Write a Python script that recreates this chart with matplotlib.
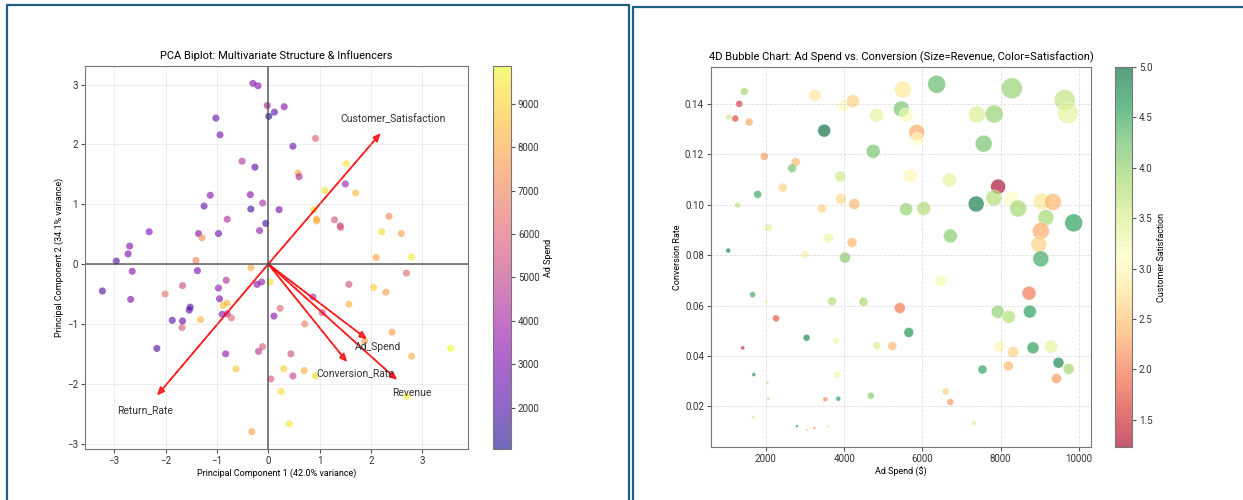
import matplotlib.pyplot as plt
from matplotlib.patches import Rectangle

plt.rcParams['font.family'] = ['Roboto', 'DejaVu Sans']
plt.rcParams['axes.edgecolor'] = '#777777'
plt.rcParams['xtick.color'] = '#555555'
plt.rcParams['ytick.color'] = '#555555'
plt.rcParams['xtick.labelcolor'] = '#333333'
plt.rcParams['ytick.labelcolor'] = '#333333'

# --- PCA scores (left) ---
pc1 = [-0.30, -0.20, -0.02, 0.01, 0.12, 0.31, -1.02, -0.94, 0.48, 0.92,
       -0.51, -0.26, 0.58, 0.60, 1.52, 1.50, 1.10, 1.70, -1.13, -0.35,
       -0.11, -1.25, -0.34, 0.21, 0.89, 0.94, 0.94, -0.80, -0.05, 1.29,
       1.40, 1.41, 2.35, 2.21, 2.59, -2.32, -1.36, -1.29, -0.97, -0.17,
       -2.70, -2.73, -2.96, -2.65, -1.41, -1.38, -0.34, 2.10, 2.79, 2.69,
       -3.23, -2.68, -2.01, -1.67, -0.82, -0.97, -0.13, -0.22, 0.03, -0.95,
       -1.52, -1.54, -0.88, -0.80, -0.90, -0.80, -0.72, -1.87, -1.67, -1.32,
       -1.68, 0.11, 0.23, 0.87, 1.05, 1.57, 2.05, 2.29, 1.57, 0.71,
       2.41, 1.88, -2.17, -0.83, -0.11, -0.19, 0.44, -0.63, 0.30, 0.70,
       0.92, 0.05, 0.48, 0.25, 2.79, 3.55, 2.70, 0.41, -0.32]
pc2 = [3.02, 2.98, 2.65, 2.47, 2.54, 2.63, 2.44, 2.16, 1.97, 2.10,
       1.72, 1.62, 1.52, 1.46, 1.68, 1.34, 1.23, 1.19, 1.15, 1.16,
       1.02, 0.97, 0.92, 0.91, 0.91, 0.75, 0.72, 0.75, 0.68, 0.74,
       0.64, 0.61, 0.80, 0.54, 0.51, 0.54, 0.51, 0.44, 0.51, 0.56,
       0.30, 0.17, 0.05, -0.12, 0.06, -0.11, -0.06, 0.11, 0.12, -0.15,
       -0.45, -0.59, -0.50, -0.36, -0.27, -0.40, -0.30, -0.34, -0.30, -0.58,
       -0.72, -0.77, -0.69, -0.65, -0.84, -0.83, -0.90, -0.94, -0.95, -0.93,
       -1.06, -0.87, -0.74, -0.55, -0.81, -0.34, -0.39, -0.47, -0.67, -1.00,
       -1.14, -1.29, -1.41, -1.50, -1.38, -1.46, -1.50, -1.75, -1.75, -1.78,
       -1.87, -1.92, -1.87, -2.13, -1.54, -1.41, -2.21, -2.67, -2.80]
pc_ad_spend = [3200, 3200, 4000, 1050, 2200, 3200, 2400, 3000, 2400, 6000,
               4500, 2200, 7800, 4200, 9300, 3800, 9300, 8500, 3300, 3300,
               4300, 2300, 1800, 2900, 8800, 8000, 8200, 4300, 1900, 5600,
               4800, 6000, 7200, 9200, 7800, 3300, 3500, 7300, 2600, 3700,
               3200, 3000, 2100, 3400, 7000, 3000, 8000, 7900, 9500, 6300,
               1900, 3200, 6500, 5300, 4300, 3300, 3700, 3500, 9300, 3100,
               1900, 2300, 8600, 8300, 3500, 4000, 6300, 2200, 2600, 8300,
               5800, 3200, 6200, 4200, 5200, 5500, 9000, 7800, 8200, 6800,
               7700, 7700, 1900, 3500, 5800, 4700, 5500, 8700, 9000, 8000,
               9100, 5800, 5000, 9300, 8300, 9870, 9700, 9400, 7900]

loading_names = ['Ad_Spend', 'Conversion_Rate', 'Revenue', 'Customer_Satisfaction', 'Return_Rate']
loading_x = [1.90, 1.52, 2.49, 2.17, -2.15]
loading_y = [-1.24, -1.62, -1.92, 2.17, -2.18]

# --- Bubble chart data (right) ---
ad_spend = [1449, 1319, 1049, 1219, 1570, 3251, 3972, 4222, 3491, 1960,
            2761, 2671, 2430, 1790, 1279, 3902, 3922, 4262, 3431, 2060,
            3602, 4202, 3001, 4022, 1039, 1660, 1990, 2260, 3692, 4493,
            3041, 1409, 3792, 4833, 1690, 2040, 2060, 1670, 2791, 3051,
            3241, 3572, 3522, 3852, 3822, 4683, 5233, 5423, 5653, 5503,
            5463, 5583, 4833, 5854, 5874, 4743, 5694, 5584, 6034, 6364,
            6695, 6715, 6474, 6594, 6715, 7315, 7395, 7836, 7566, 8286,
            9638, 9718, 7936, 7826, 8277, 7375, 8447, 9057, 9337, 9157,
            9868, 9027, 8977, 9027, 8727, 7926, 8207, 8747, 7966, 8317,
            8827, 9287, 7536, 8197, 9478, 9738, 9428]
conversion = [0.1449, 0.1400, 0.1348, 0.1342, 0.1328, 0.1434, 0.1393, 0.1411, 0.1294, 0.1192,
              0.1169, 0.1145, 0.1068, 0.1041, 0.0999, 0.1112, 0.1023, 0.1003, 0.0985, 0.0909,
              0.0868, 0.0850, 0.0802, 0.0790, 0.0818, 0.0643, 0.0615, 0.0549, 0.0617, 0.0615,
              0.0472, 0.0432, 0.0460, 0.0441, 0.0326, 0.0293, 0.0230, 0.0157, 0.0121, 0.0107,
              0.0114, 0.0120, 0.0228, 0.0230, 0.0326, 0.0242, 0.0439, 0.0590, 0.0493, 0.1457,
              0.1380, 0.1356, 0.1355, 0.1287, 0.1261, 0.1212, 0.1115, 0.0982, 0.0985, 0.1478,
              0.1098, 0.0876, 0.0697, 0.0258, 0.0217, 0.0133, 0.1358, 0.1360, 0.1242, 0.1462,
              0.1415, 0.1364, 0.1072, 0.1027, 0.1023, 0.1003, 0.0985, 0.1013, 0.1011, 0.0949,
              0.0928, 0.0896, 0.0842, 0.0785, 0.0649, 0.0575, 0.0555, 0.0576, 0.0436, 0.0416,
              0.0432, 0.0437, 0.0346, 0.0360, 0.0373, 0.0348, 0.0310]
revenue = [332, 254, 187, 254, 332, 746, 746, 876, 876, 332,
           420, 420, 420, 332, 187, 627, 627, 627, 420, 332,
           518, 518, 332, 627, 130, 187, 130, 254, 420, 420,
           254, 83, 254, 332, 83, 47, 47, 47, 47, 47,
           47, 47, 130, 130, 254, 254, 420, 627, 518, 1498,
           1327, 1016, 1016, 1327, 876, 1016, 1016, 876, 1016, 1680,
           1016, 1016, 746, 254, 254, 130, 1498, 1680, 1498, 2286,
           2286, 2286, 1166, 1327, 1327, 1327, 1498, 1498, 1498, 1327,
           1680, 1498, 1327, 1327, 1016, 876, 876, 876, 627, 627,
           746, 876, 420, 518, 627, 627, 518]
satisfaction = [3.9, 1.6, 3.6, 1.7, 2.3, 2.8, 3.1, 2.6, 5.0, 2.2,
                2.4, 4.2, 2.6, 4.5, 3.7, 3.6, 2.7, 2.4, 2.6, 3.4,
                3.3, 2.4, 2.9, 4.1, 4.8, 4.5, 3.2, 1.8, 3.8, 3.9,
                4.8, 1.4, 3.3, 3.5, 4.7, 3.8, 2.5, 3.7, 4.6, 2.6,
                2.2, 2.7, 2.1, 4.6, 3.3, 4.1, 2.4, 2.0, 4.7, 2.8,
                4.2, 3.2, 3.4, 2.3, 3.1, 4.2, 3.0, 4.0, 3.8, 4.3,
                3.4, 4.1, 3.2, 2.6, 2.2, 3.4, 3.5, 4.0, 4.2, 4.0,
                3.7, 3.4, 1.23, 3.8, 3.1, 4.9, 3.9, 2.8, 2.4, 3.9,
                4.6, 2.3, 2.6, 4.5, 2.0, 4.0, 3.8, 4.6, 3.0, 2.6,
                4.6, 3.4, 4.6, 2.4, 4.8, 3.9, 2.2]

fig = plt.figure(figsize=(12.43, 5), dpi=100)

# panel frames
for x0, y_top, w in [(7, 5, 622), (633, 7, 640)]:
    fig.patches.append(Rectangle((x0 / 1243, -0.02), w / 1243, (500 - y_top) / 500 + 0.02,
                                 transform=fig.transFigure, fill=False,
                                 edgecolor='#1f5f7f', linewidth=1.6))

# --- Left: PCA biplot ---
ax1 = fig.add_axes([0.0684, 0.102, 0.3081, 0.766])
cax1 = fig.add_axes([0.3966, 0.102, 0.0145, 0.766])
sc1 = ax1.scatter(pc1, pc2, c=pc_ad_spend, cmap='plasma', s=26, alpha=0.6, linewidths=0)
ax1.axhline(0, color='#444444', linewidth=1.2, alpha=0.8)
ax1.axvline(0, color='#444444', linewidth=1.2, alpha=0.8)
for name, lx, ly in zip(loading_names, loading_x, loading_y):
    ax1.arrow(0, 0, lx, ly, color='r', alpha=0.8, width=0.008, head_width=0.11,
              head_length=0.13, length_includes_head=True)
    ax1.text(lx * 1.12, ly * 1.12, name, color='#333333', ha='center', va='center', fontsize=7.5)
ax1.set_title('PCA Biplot: Multivariate Structure & Influencers', fontsize=8, pad=5)
ax1.set_xlabel('Principal Component 1 (42.0% variance)', fontsize=6.5, labelpad=2)
ax1.set_ylabel('Principal Component 2 (34.1% variance)', fontsize=6.5, labelpad=2)
ax1.tick_params(labelsize=7, length=3, pad=2)
ax1.grid(True, alpha=0.25, linewidth=0.6)
cb1 = fig.colorbar(sc1, cax=cax1)
cb1.set_label('Ad Spend', fontsize=6.5, labelpad=3)
cb1.ax.tick_params(labelsize=7, length=3, pad=2)
cb1.outline.set_edgecolor('#777777')

# --- Right: bubble chart ---
ax2 = fig.add_axes([0.572, 0.106, 0.3057, 0.76])
cax2 = fig.add_axes([0.897, 0.106, 0.0137, 0.76])
sizes = [r / 10 for r in revenue]
sc2 = ax2.scatter(ad_spend, conversion, s=sizes, c=satisfaction, cmap='RdYlGn',
                  alpha=0.65, edgecolors='w', linewidth=0.5)
ax2.set_title('4D Bubble Chart: Ad Spend vs. Conversion (Size=Revenue, Color=Satisfaction)',
              fontsize=8, pad=5)
ax2.set_xlabel('Ad Spend ($)', fontsize=6.5, labelpad=2)
ax2.set_ylabel('Conversion Rate', fontsize=6.5, labelpad=2)
ax2.set_xticks([2000, 4000, 6000, 8000, 10000])
ax2.tick_params(labelsize=7, length=3, pad=2)
ax2.grid(True, linestyle='--', alpha=0.4, linewidth=0.6)
cb2 = fig.colorbar(sc2, cax=cax2)
cb2.set_label('Customer Satisfaction', fontsize=6.5, labelpad=3)
cb2.ax.tick_params(labelsize=7, length=3, pad=2)
cb2.outline.set_edgecolor('#777777')

fig.savefig('out.png', dpi=100)
